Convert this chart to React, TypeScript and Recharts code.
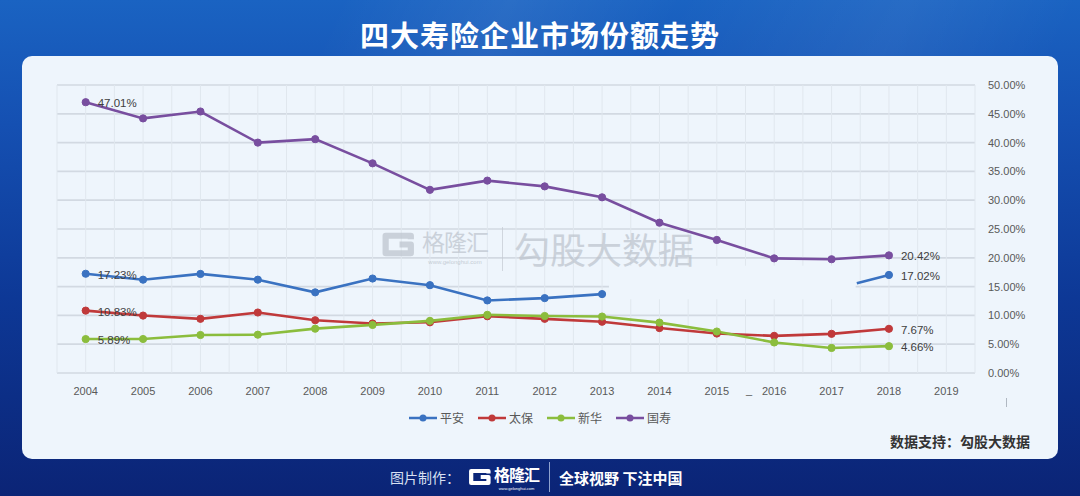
import React from 'react';
import { LineChart, Line, XAxis, YAxis, CartesianGrid, Legend, ReferenceArea } from 'recharts';

// ---- data ----
const years = [2004, 2005, 2006, 2007, 2008, 2009, 2010, 2011, 2012, 2013, 2014, 2015, 2016, 2017, 2018];
const axisYears = [2004, 2005, 2006, 2007, 2008, 2009, 2010, 2011, 2012, 2013, 2014, 2015, 2016, 2017, 2018, 2019];
const pingan = [17.23, 16.2, 17.2, 16.2, 14.0, 16.4, 15.25, 12.6, 13.0, 13.7, null, null, null, null, 17.02];
const taibao = [10.83, 9.97, 9.4, 10.5, 9.16, 8.6, 8.8, 9.85, 9.4, 8.9, 7.8, 6.85, 6.45, 6.8, 7.67];
const xinhua = [5.89, 5.9, 6.6, 6.65, 7.7, 8.35, 9.05, 10.1, 9.9, 9.8, 8.75, 7.2, 5.3, 4.35, 4.66];
const guoshou = [47.01, 44.2, 45.4, 40.0, 40.6, 36.4, 31.8, 33.4, 32.4, 30.5, 26.1, 23.1, 19.9, 19.75, 20.42];
// the visible stub of 平安 that reappears before 2018
const pinganStubYear = 2017.44;
const pinganStubValue = 15.6;
// the light patch that hides part of the plot in the original
const patchX = [2013.12, 2017.42];
const patchY = [12.8, 18.6];
const yTicks = [0, 5, 10, 15, 20, 25, 30, 35, 40, 45, 50];

const seriesNames = ['平安', '太保', '新华', '国寿'];
const seriesKeys = ['pingan', 'taibao', 'xinhua', 'guoshou'];
const seriesColors = ['#3a72c1', '#c0393a', '#8bbd3d', '#784e9f'];

type Row = { year: number; pingan?: number | null; taibao?: number | null; xinhua?: number | null; guoshou?: number | null };

const data: Row[] = years
  .map((year, i) => ({ year, pingan: pingan[i], taibao: taibao[i], xinhua: xinhua[i], guoshou: guoshou[i] } as Row))
  .concat([{ year: pinganStubYear, pingan: pinganStubValue }])
  .sort((a, b) => a.year - b.year);

const gridTicks: number[] = [];
axisYears.forEach((y) => {
  gridTicks.push(y - 0.5);
  gridTicks.push(y);
});
gridTicks.push(axisYears[axisYears.length - 1] + 0.5);

const firstYear = years[0];
const lastYear = years[years.length - 1];
const LABEL_FONT = '"Liberation Sans", "DejaVu Sans", sans-serif';
const CJK = '"Noto Sans CJK SC", "Noto Sans", sans-serif';

const makeLabel = (key: string) => (props: any) => {
  const { x, y, index } = props;
  const row = data[index];
  if (!row) return <g key={`l-${key}-${index}`} />;
  const v = (row as any)[key];
  if (v == null || (row.year !== firstYear && row.year !== lastYear)) return <g key={`l-${key}-${index}`} />;
  return (
    <text key={`l-${key}-${index}`} x={x + 12} y={y + 5} fontSize={11.5} fill="#404040" fontFamily={LABEL_FONT}>
      {v.toFixed(2)}%
    </text>
  );
};

const makeDot = (color: string) => (props: any) => {
  const { cx, cy, payload, value, index } = props;
  if (value == null || cx == null || cy == null || !Number.isInteger(payload.year)) return <g key={`d-${index}`} />;
  return <circle key={`d-${index}`} cx={cx} cy={cy} r={3.6} fill={color} stroke={color} strokeWidth={1} />;
};

const LegendContent = () => (
  <div style={{ display: 'flex', justifyContent: 'center', alignItems: 'center', width: 1080, fontFamily: CJK, fontSize: 12, color: '#595959' }}>
    {seriesNames.map((name, i) => (
      <div key={name} style={{ display: 'flex', alignItems: 'center', marginRight: i < seriesNames.length - 1 ? 14 : 0 }}>
        <svg width={28} height={10} style={{ marginRight: 3 }}>
          <line x1={0} y1={5} x2={28} y2={5} stroke={seriesColors[i]} strokeWidth={2.5} />
          <circle cx={14} cy={5} r={3.5} fill={seriesColors[i]} />
        </svg>
        <span>{name}</span>
      </div>
    ))}
  </div>
);

const GLogo = ({ color, w, h }: { color: string; w: number; h: number }) => (
  <svg width={w} height={h} viewBox="0 0 34 26">
    <path d="M29 8 V4.5 H4.5 V21.5 H29 V13 H18" fill="none" stroke={color} strokeWidth={6} strokeLinejoin="round" />
  </svg>
);

export default function App() {
  return (
    <div
      style={{
        position: 'fixed',
        left: 0,
        top: 0,
        width: 1080,
        height: 496,
        overflow: 'hidden',
        background: 'linear-gradient(180deg, #1a63c2 0%, #1550b2 25%, #0d3896 60%, #0b2476 100%)',
        fontFamily: CJK,
      }}
    >
      <div
        style={{
          position: 'absolute',
          left: 0,
          top: 0,
          width: 1080,
          height: 120,
          background: 'linear-gradient(115deg, rgba(255,255,255,0) 30%, rgba(255,255,255,0.07) 45%, rgba(255,255,255,0) 60%, rgba(255,255,255,0.06) 80%, rgba(255,255,255,0) 95%)',
        }}
      />
      <div
        style={{
          position: 'absolute',
          left: 0,
          top: 12,
          width: 1080,
          textAlign: 'center',
          color: '#ffffff',
          fontSize: 29,
          fontWeight: 700,
          lineHeight: '44px',
          letterSpacing: 1,
        }}
      >
        四大寿险企业市场份额走势
      </div>
      <div
        style={{
          position: 'absolute',
          left: 22,
          top: 56,
          width: 1036,
          height: 403,
          borderRadius: 10,
          background: '#eef5fc',
        }}
      />
      <div style={{ position: 'absolute', left: 0, top: 0 }}>
        <LineChart width={1080} height={496} data={data} margin={{ top: 85, right: 45, bottom: 93, left: 57 }}>
          <CartesianGrid vertical={false} stroke="#d2d9e2" strokeWidth={1.7} />
          <CartesianGrid horizontal={false} stroke="#e0e7ee" strokeWidth={1} />
          <XAxis
            dataKey="year"
            type="number"
            domain={[axisYears[0] - 0.5, axisYears[axisYears.length - 1] + 0.5]}
            ticks={gridTicks}
            interval={0}
            tickFormatter={(v: number) => (Number.isInteger(v) ? String(v) : '')}
            axisLine={false}
            tickLine={false}
            tickMargin={8}
            height={30}
            tick={{ fontSize: 11, fill: '#595959', fontFamily: LABEL_FONT }}
          />
          <YAxis
            orientation="right"
            domain={[0, 50]}
            ticks={yTicks}
            interval={0}
            tickFormatter={(v: number) => `${v.toFixed(2)}%`}
            axisLine={false}
            tickLine={false}
            tickMargin={7}
            width={60}
            tick={{ fontSize: 11, fill: '#595959', fontFamily: LABEL_FONT, textAnchor: 'start' }}
          />
          <ReferenceArea x1={patchX[0]} x2={patchX[1]} y1={patchY[0]} y2={patchY[1]} fill="#eef5fc" fillOpacity={1} stroke="none" ifOverflow="visible" />
          <Legend verticalAlign="middle" align="center" layout="horizontal" content={<LegendContent />} wrapperStyle={{ top: 409, left: 0, width: 1080 }} />
          {seriesKeys.map((key, i) => (
            <Line
              key={key}
              type="linear"
              dataKey={key}
              name={seriesNames[i]}
              stroke={seriesColors[i]}
              strokeWidth={2.6}
              connectNulls={key !== 'pingan'}
              dot={makeDot(seriesColors[i])}
              activeDot={false}
              label={makeLabel(key)}
              isAnimationActive={false}
            />
          ))}
        </LineChart>
      </div>
      {/* watermark */}
      <div style={{ position: 'absolute', left: 381, top: 224, display: 'flex', alignItems: 'flex-start', opacity: 0.7, pointerEvents: 'none' }}>
        <div style={{ marginTop: 7 }}>
          <GLogo color="#bcc3cc" w={35} h={27} />
        </div>
        <div style={{ marginLeft: 6, display: 'flex', flexDirection: 'column', alignItems: 'center' }}>
          <div style={{ fontSize: 23, color: '#bcc3cc', lineHeight: '34px', letterSpacing: -1 }}>格隆汇</div>
          <div style={{ fontSize: 6, color: '#b4bcc6', lineHeight: '8px', fontFamily: LABEL_FONT }}>www.gelonghui.com</div>
        </div>
        <div style={{ width: 1, height: 44, background: '#c4cad2', marginLeft: 14, marginTop: 3 }} />
        <div style={{ fontSize: 36, color: '#bcc3cc', lineHeight: '52px', marginLeft: 11, marginTop: -2 }}>勾股大数据</div>
      </div>
      {/* small artifacts in the original */}
      <div style={{ position: 'absolute', left: 746, top: 384, fontSize: 11, color: '#595959', fontFamily: LABEL_FONT }}>_</div>
      <div style={{ position: 'absolute', left: 1006, top: 398, width: 1, height: 9, background: '#b0b8c2' }} />
      {/* source */}
      <div style={{ position: 'absolute', left: 0, top: 431, width: 1030, textAlign: 'right', fontSize: 14, fontWeight: 700, color: '#333333', lineHeight: '20px' }}>
        数据支持：勾股大数据
      </div>
      {/* footer */}
      <div style={{ position: 'absolute', left: 390, top: 462, height: 30, display: 'flex', alignItems: 'center', color: '#ffffff' }}>
        <span style={{ fontSize: 14, color: '#d8e0f2' }}>图片制作：</span>
        <div style={{ marginLeft: 8, display: 'flex', alignItems: 'center' }}>
          <GLogo color="#ffffff" w={24} h={20} />
          <div style={{ display: 'flex', flexDirection: 'column', alignItems: 'center', marginLeft: 2 }}>
            <span style={{ fontSize: 16, fontWeight: 700, lineHeight: '24px', letterSpacing: -1 }}>格隆汇</span>
            <span style={{ fontSize: 4, lineHeight: '6px', fontFamily: LABEL_FONT }}>www.gelonghui.com</span>
          </div>
        </div>
        <div style={{ width: 1, height: 30, background: '#8fa2cf', marginLeft: 10, marginRight: 9 }} />
        <span style={{ fontSize: 15, fontWeight: 700 }}>全球视野 下注中国</span>
      </div>
    </div>
  );
}
